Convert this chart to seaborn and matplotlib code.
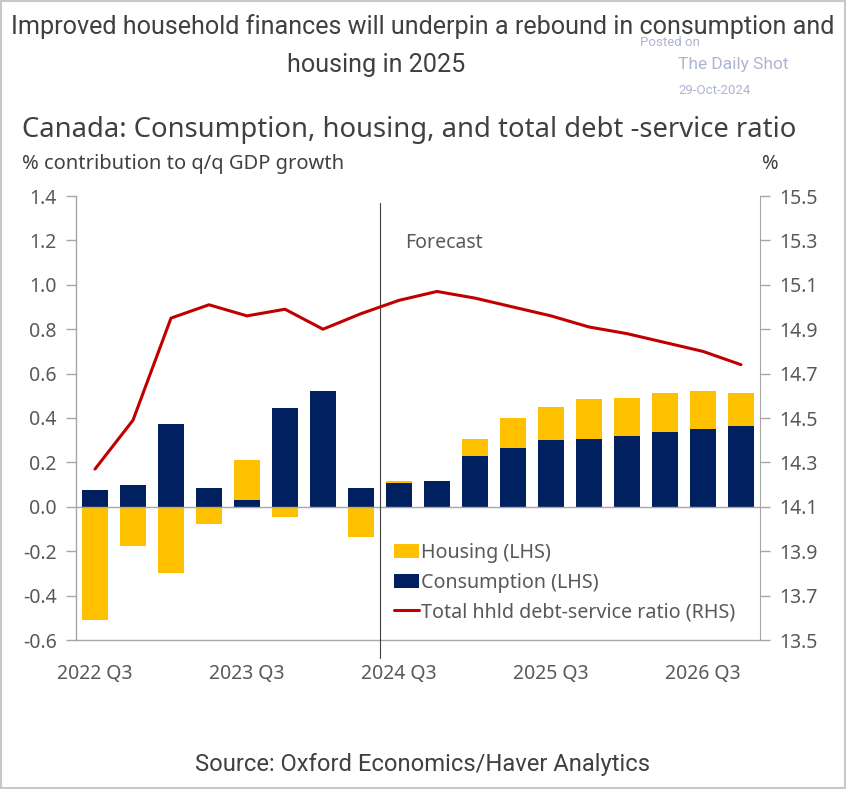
import numpy as np
import pandas as pd
import matplotlib
matplotlib.use("Agg")
import matplotlib.pyplot as plt
import seaborn as sns
from matplotlib.patches import Rectangle, Patch
from matplotlib.lines import Line2D

quarters = ["2022 Q3", "2022 Q4", "2023 Q1", "2023 Q2", "2023 Q3", "2023 Q4",
            "2024 Q1", "2024 Q2", "2024 Q3", "2024 Q4", "2025 Q1", "2025 Q2",
            "2025 Q3", "2025 Q4", "2026 Q1", "2026 Q2", "2026 Q3", "2026 Q4"]
consumption = [0.077, 0.098, 0.372, 0.083, 0.030, 0.444, 0.520, 0.083, 0.105,
               0.117, 0.231, 0.264, 0.299, 0.305, 0.318, 0.336, 0.351, 0.365]
housing = [-0.510, -0.177, -0.297, -0.078, 0.180, -0.045, -0.003, -0.138, 0.012,
           -0.003, 0.075, 0.135, 0.151, 0.180, 0.174, 0.176, 0.169, 0.147]
debt_service = [14.27, 14.49, 14.95, 15.01, 14.96, 14.99, 14.90, 14.97, 15.03,
                15.07, 15.04, 15.00, 14.96, 14.91, 14.88, 14.84, 14.80, 14.74]
left_ticks = [-0.6, -0.4, -0.2, 0.0, 0.2, 0.4, 0.6, 0.8, 1.0, 1.2, 1.4]
right_ticks = [13.5, 13.7, 13.9, 14.1, 14.3, 14.5, 14.7, 14.9, 15.1, 15.3, 15.5]
label_quarters = ["2022 Q3", "2023 Q3", "2024 Q3", "2025 Q3", "2026 Q3"]

sns.set_style("white")
plt.rcParams["font.family"] = ["Noto Sans", "DejaVu Sans"]
plt.rcParams["axes.unicode_minus"] = False

YEL = "#FFC000"
NAVY = "#002060"
RED = "#C00000"
TXT = "#595959"
DARK = "#404040"
SPINE = "#A6A6A6"
TICKFS = 14

W, H = 846, 789
fig = plt.figure(figsize=(W / 100, H / 100), dpi=100)
ax = fig.add_axes([76 / W, 1 - 640 / H, (760 - 76) / W, (640 - 196) / H])

df = pd.DataFrame({"quarter": quarters, "consumption": consumption, "housing": housing})
# stacked: housing sits on consumption when positive, below zero when negative
df["housing_top"] = np.where(df["housing"] > 0, df["consumption"] + df["housing"], df["housing"])

sns.barplot(data=df, x="quarter", y="housing_top", color=YEL, width=0.68,
            saturation=1, ax=ax, order=quarters, linewidth=0)
sns.barplot(data=df, x="quarter", y="consumption", color=NAVY, width=0.68,
            saturation=1, ax=ax, order=quarters, linewidth=0)

ax.set_ylim(-0.6, 1.4)
ax.set_xlim(-0.5, len(quarters) - 0.5)
ax.axhline(0, color=SPINE, lw=1.0, zorder=1)
ax.set_yticks(left_ticks)
ax.set_yticklabels([f"{v:.1f}" for v in left_ticks])
ax.set_xticks(np.arange(-0.5, len(quarters), 1.0))
ax.set_xticklabels([])
idx = [quarters.index(q) for q in label_quarters]
ax.set_xticks(idx, minor=True)
ax.set_xticklabels(label_quarters, minor=True)
ax.tick_params(axis="x", which="major", length=7, color=SPINE, width=1, direction="out")
ax.tick_params(axis="x", which="minor", length=0, pad=17, labelsize=TICKFS, labelcolor=TXT)
ax.tick_params(axis="y", length=7, color=SPINE, width=1, direction="out",
               labelsize=TICKFS, labelcolor=TXT, pad=7)
for s in ["top", "right"]:
    ax.spines[s].set_visible(False)
for s in ["left", "bottom"]:
    ax.spines[s].set_color(SPINE)
    ax.spines[s].set_linewidth(1)
ax.set_xlabel("")
ax.set_ylabel("")

ax2 = ax.twinx()
ldf = pd.DataFrame({"pos": np.arange(len(quarters)), "dsr": debt_service})
sns.lineplot(data=ldf, x="pos", y="dsr", color=RED, lw=2.2, ax=ax2)
ax2.set_ylim(13.5, 15.5)
ax2.set_xlim(-0.5, len(quarters) - 0.5)
ax2.set_yticks(right_ticks)
ax2.set_yticklabels([f"{v:.1f}" for v in right_ticks])
ax2.tick_params(axis="y", length=7, color=SPINE, width=1, direction="out",
                labelsize=TICKFS, labelcolor=TXT, pad=7)
for s in ["top", "left", "bottom"]:
    ax2.spines[s].set_visible(False)
ax2.spines["right"].set_color(SPINE)
ax2.set_ylabel("")
ax2.set_xlabel("")

# forecast divider
ax.plot([7.5, 7.5], [1.37, -0.68], color=DARK, lw=0.8, clip_on=False, zorder=5)
ax.text(8.15, 1.19, "Forecast", fontsize=14, color=TXT, va="center", ha="left")

handles = [Patch(facecolor=YEL, edgecolor="none"),
           Patch(facecolor=NAVY, edgecolor="none"),
           Line2D([0], [0], color=RED, lw=2.2)]
labels = ["Housing (LHS)", "Consumption (LHS)", "Total hhld debt-service ratio (RHS)"]
leg = ax2.legend(handles, labels, loc="upper left", bbox_to_anchor=(0.454, 0.237),
                 frameon=False, fontsize=14.2, handlelength=1.25, handletextpad=0.1,
                 labelspacing=0.5, borderaxespad=0)
for t in leg.get_texts():
    t.set_color(TXT)

# texts
cond = ["Roboto", "DejaVu Sans"]
t1 = fig.text(0.5, 1 - 27 / H, "Improved household finances will underpin a rebound in consumption and",
              ha="center", va="center", fontsize=17, color=DARK, family=cond)
t2 = fig.text(376 / W, 1 - 65 / H, "housing in 2025", ha="center", va="center",
              fontsize=17, color=DARK, family=cond)
wm = "#AEB4D4"
fig.text(640 / W, 1 - 42 / H, "Posted on", fontsize=9.5, color=wm, va="center", family=cond)
fig.text(678 / W, 1 - 64 / H, "The Daily Shot", fontsize=12.5, color=wm, va="center", family=cond)
fig.text(678 / W, 1 - 90 / H, "29-Oct-2024", fontsize=9.5, color=wm, va="center", family=cond)
t3 = fig.text(22 / W, 1 - 130 / H, "Canada: Consumption, housing, and total debt -service ratio",
              ha="left", va="center", fontsize=19.8, color=DARK)
t4 = fig.text(22 / W, 1 - 164 / H, "% contribution to q/q GDP growth", ha="left", va="center",
              fontsize=14.3, color=DARK)
fig.text(770 / W, 1 - 164 / H, "%", ha="center", va="center", fontsize=14.3, color=DARK)
t5 = fig.text(422 / W, 1 - 765 / H, "Source: Oxford Economics/Haver Analytics", ha="center",
              va="center", fontsize=15, color=DARK, family=cond)

# fit text widths to the reference widths
fig.canvas.draw()
r = fig.canvas.get_renderer()
def fit(t, target):
    w = t.get_window_extent(r).width
    t.set_fontsize(t.get_fontsize() * target / w)
fit(t1, 826)
t2.set_fontsize(t1.get_fontsize())
fit(t3, 773)
fit(t4, 322)
fit(t5, 455)

fig.patches.append(Rectangle((0.001, 0.001), 0.998, 0.998, transform=fig.transFigure,
                             fill=False, edgecolor="#C8C8C8", lw=1.5))

fig.savefig("out.png", dpi=100)
